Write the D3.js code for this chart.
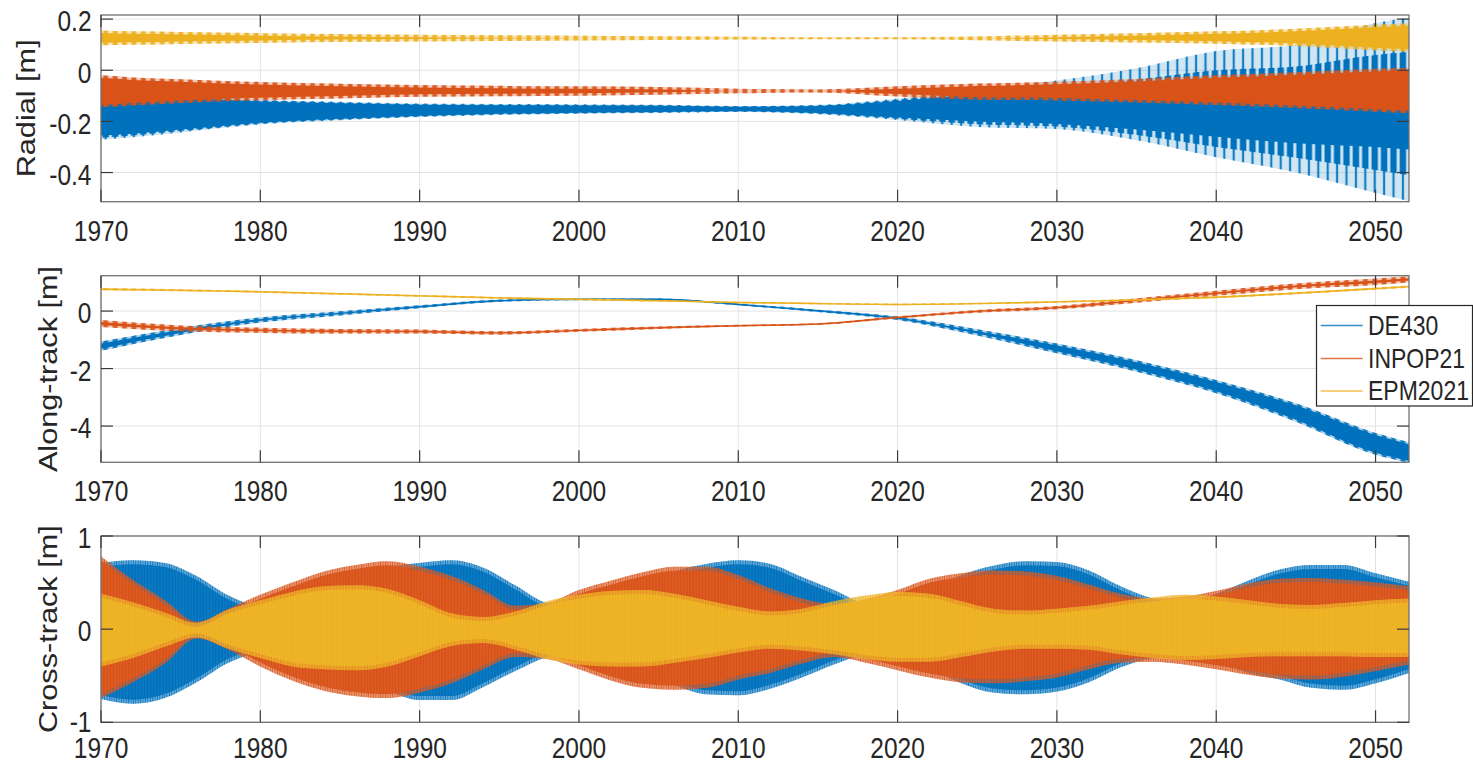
<!DOCTYPE html>
<html>
<head>
<meta charset="utf-8">
<script src="https://cdn.jsdelivr.net/npm/d3@7"></script>
<style>
  html, body { margin: 0; padding: 0; background: #fff; }
  svg { display: block; }
  text { font-family: "Liberation Sans", Arial, Helvetica, sans-serif; fill: #262626; }
</style>
</head>
<body>
<svg id="chart" width="1473" height="764"></svg>
<script>
// ---------------------------------------------------------------------------
// Ephemeris differences (Moon position) in RTN frame, envelope of the signal
// ---------------------------------------------------------------------------
const seriesNames = ["DE430", "INPOP21", "EPM2021"];
const xTickValues = [1970, 1980, 1990, 2000, 2010, 2020, 2030, 2040, 2050];

// Radial [m] — upper / lower envelope
const radialYears = [1970, 1972, 1975, 1980, 1985, 1990, 1995, 2000, 2005, 2010, 2015, 2020, 2025, 2030, 2035, 2040, 2045, 2050, 2052.1];
const radialDE430Hi = [-0.050, -0.088, -0.098, -0.115, -0.123, -0.130, -0.132, -0.133, -0.135, -0.140, -0.135, -0.110, -0.075, -0.040, 0.008, 0.075, 0.100, 0.185, 0.205];
const radialDE430Lo = [-0.272, -0.262, -0.243, -0.212, -0.196, -0.183, -0.175, -0.170, -0.167, -0.163, -0.172, -0.195, -0.222, -0.230, -0.274, -0.340, -0.400, -0.480, -0.512];
const radialDE430CoreHi = [-0.080, -0.100, -0.108, -0.122, -0.129, -0.135, -0.137, -0.138, -0.139, -0.143, -0.140, -0.120, -0.095, -0.085, -0.080, -0.075, -0.070, -0.065, -0.063];
const radialDE430CoreLo = [-0.255, -0.248, -0.232, -0.205, -0.190, -0.178, -0.170, -0.166, -0.163, -0.160, -0.167, -0.185, -0.200, -0.210, -0.232, -0.260, -0.285, -0.300, -0.310];
const radialINPOP21Hi = [-0.020, -0.028, -0.035, -0.046, -0.053, -0.058, -0.061, -0.063, -0.066, -0.072, -0.075, -0.063, -0.052, -0.045, -0.034, -0.020, -0.008, 0.006, 0.010];
const radialINPOP21Lo = [-0.145, -0.138, -0.128, -0.117, -0.110, -0.104, -0.102, -0.100, -0.096, -0.090, -0.087, -0.103, -0.115, -0.118, -0.126, -0.136, -0.148, -0.162, -0.168];
const radialEPM2021Hi = [0.155, 0.152, 0.150, 0.145, 0.142, 0.139, 0.137, 0.135, 0.133, 0.131, 0.129, 0.129, 0.132, 0.139, 0.145, 0.152, 0.162, 0.178, 0.184];
const radialEPM2021Lo = [0.098, 0.100, 0.103, 0.107, 0.110, 0.112, 0.114, 0.116, 0.118, 0.120, 0.121, 0.121, 0.117, 0.112, 0.108, 0.104, 0.095, 0.078, 0.072];

// Along-track [m] — band centre and half-width
const alongYears = [1970, 1975, 1980, 1985, 1990, 1995, 2000, 2005, 2010, 2015, 2020, 2025, 2030, 2035, 2040, 2045, 2050, 2052.1];
const alongDE430Mid = [-1.22, -0.71, -0.31, -0.08, 0.15, 0.36, 0.41, 0.41, 0.23, 0.01, -0.25, -0.74, -1.30, -1.91, -2.63, -3.53, -4.62, -4.92];
const alongDE430Half = [0.16, 0.12, 0.09, 0.07, 0.05, 0.04, 0.03, 0.03, 0.03, 0.04, 0.06, 0.11, 0.17, 0.20, 0.23, 0.32, 0.38, 0.36];
const alongINPOP21Mid = [-0.43, -0.60, -0.67, -0.70, -0.71, -0.76, -0.67, -0.58, -0.51, -0.45, -0.22, -0.01, 0.12, 0.37, 0.62, 0.86, 1.02, 1.10];
const alongINPOP21Half = [0.12, 0.10, 0.09, 0.08, 0.07, 0.06, 0.05, 0.04, 0.03, 0.03, 0.04, 0.05, 0.06, 0.08, 0.09, 0.10, 0.11, 0.11];
const alongEPM2021Mid = [0.76, 0.72, 0.67, 0.60, 0.53, 0.46, 0.41, 0.36, 0.30, 0.26, 0.23, 0.26, 0.32, 0.39, 0.48, 0.62, 0.78, 0.85];
const alongEPM2021Half = [0.04, 0.035, 0.03, 0.03, 0.03, 0.03, 0.03, 0.025, 0.025, 0.025, 0.025, 0.025, 0.03, 0.03, 0.035, 0.035, 0.04, 0.04];

// Cross-track [m] — upper / lower envelope
const crossYears = [1970, 1972, 1974, 1976, 1978, 1980, 1982, 1984, 1986, 1988, 1990, 1992, 1994, 1996, 1998, 2000, 2002, 2004, 2006, 2008, 2010, 2012, 2014, 2016, 2018, 2020, 2022, 2024, 2026, 2028, 2030, 2032, 2034, 2036, 2038, 2040, 2042, 2044, 2046, 2048, 2050, 2052.1];
const crossDE430Hi = [0.71, 0.74, 0.71, 0.57, 0.36, 0.24, 0.22, 0.35, 0.52, 0.66, 0.71, 0.74, 0.66, 0.47, 0.28, 0.24, 0.30, 0.47, 0.62, 0.70, 0.74, 0.70, 0.56, 0.42, 0.28, 0.27, 0.42, 0.58, 0.68, 0.73, 0.72, 0.63, 0.46, 0.33, 0.29, 0.38, 0.52, 0.64, 0.69, 0.69, 0.60, 0.51];
const crossDE430Lo = [-0.75, -0.80, -0.74, -0.57, -0.36, -0.25, -0.22, -0.35, -0.52, -0.66, -0.76, -0.76, -0.62, -0.45, -0.30, -0.25, -0.30, -0.46, -0.60, -0.70, -0.71, -0.64, -0.52, -0.38, -0.28, -0.28, -0.42, -0.58, -0.68, -0.70, -0.67, -0.57, -0.41, -0.31, -0.28, -0.35, -0.47, -0.54, -0.63, -0.65, -0.58, -0.47];
const crossINPOP21Hi = [0.78, 0.53, 0.31, 0.08, 0.22, 0.37, 0.50, 0.62, 0.69, 0.73, 0.67, 0.57, 0.42, 0.25, 0.28, 0.42, 0.52, 0.61, 0.67, 0.67, 0.58, 0.44, 0.33, 0.27, 0.32, 0.42, 0.54, 0.60, 0.63, 0.62, 0.57, 0.48, 0.38, 0.33, 0.35, 0.41, 0.49, 0.54, 0.55, 0.53, 0.50, 0.46];
const crossINPOP21Lo = [-0.74, -0.57, -0.37, -0.10, -0.22, -0.40, -0.55, -0.66, -0.72, -0.74, -0.68, -0.58, -0.43, -0.30, -0.32, -0.43, -0.55, -0.63, -0.65, -0.63, -0.54, -0.47, -0.37, -0.30, -0.36, -0.44, -0.52, -0.57, -0.58, -0.56, -0.52, -0.43, -0.36, -0.35, -0.38, -0.43, -0.49, -0.53, -0.54, -0.51, -0.45, -0.38];
const crossEPM2021Hi = [0.38, 0.29, 0.18, 0.07, 0.21, 0.31, 0.40, 0.46, 0.47, 0.43, 0.31, 0.17, 0.13, 0.19, 0.30, 0.37, 0.41, 0.42, 0.38, 0.31, 0.24, 0.19, 0.22, 0.30, 0.36, 0.40, 0.38, 0.30, 0.22, 0.20, 0.22, 0.25, 0.30, 0.34, 0.37, 0.35, 0.31, 0.27, 0.26, 0.28, 0.31, 0.33];
const crossEPM2021Lo = [-0.40, -0.31, -0.19, -0.09, -0.21, -0.31, -0.40, -0.43, -0.44, -0.40, -0.29, -0.18, -0.15, -0.22, -0.32, -0.38, -0.40, -0.40, -0.36, -0.31, -0.25, -0.21, -0.23, -0.27, -0.32, -0.35, -0.35, -0.30, -0.24, -0.21, -0.21, -0.22, -0.27, -0.31, -0.33, -0.32, -0.30, -0.29, -0.29, -0.29, -0.30, -0.30];

// ---------------------------------------------------------------------------
const COLORS = { DE430: "#0072BD", INPOP21: "#D95319", EPM2021: "#EDB120" };
const LEFT = 101, RIGHT = 1409;
const SY = 1.18;            // vertical stretch applied to all text
const TICK_FONT = 24.5, LABEL_FONT = 26, LEGEND_FONT = 23;

const svg = d3.select("#chart");
const defs = svg.append("defs");

const x = d3.scaleLinear().domain([1970, 2052.1]).range([LEFT, RIGHT]);

// stripe textures standing in for the fast oscillation of each trace
function stripePattern(id, color, period, width) {
  const p = defs.append("pattern")
    .attr("id", id)
    .attr("patternUnits", "userSpaceOnUse")
    .attr("x", LEFT).attr("y", 0)
    .attr("width", period).attr("height", 20);
  p.append("rect").attr("x", (period - width) / 2).attr("y", 0)
    .attr("width", width).attr("height", 20).attr("fill", color);
}
seriesNames.forEach(name => {
  stripePattern("comb-" + name, COLORS[name], 9.4, 4.8);
  stripePattern("thin-" + name, COLORS[name], 9.4, 2.2);
  stripePattern("wide-" + name, COLORS[name], 9.4, 6.4);
  stripePattern("fine-" + name, COLORS[name], 2.4, 1.3);
});
stripePattern("sheen", "#ffffff", 3.1, 0.9);

const panels = [
  {
    id: "radial", top: 15, bottom: 201.7, domain: [-0.514, 0.216],
    yTicks: [-0.4, -0.2, 0, 0.2], label: "Radial [m]", labelX: 35, fringe: "comb", inset: 2.5,
    bands: [
      { name: "DE430", rows: zipHiLo(radialYears, radialDE430Lo, radialDE430Hi),
        core: zipHiLo(radialYears, radialDE430CoreLo, radialDE430CoreHi) },
      { name: "INPOP21", rows: zipHiLo(radialYears, radialINPOP21Lo, radialINPOP21Hi) },
      { name: "EPM2021", rows: zipHiLo(radialYears, radialEPM2021Lo, radialEPM2021Hi) }
    ]
  },
  {
    id: "along", top: 275.7, bottom: 462.3, domain: [-5.26, 1.23],
    yTicks: [-4, -2, 0], label: "Along-track [m]", labelX: 57.3, fringe: "comb", inset: 2,
    centre: true,
    bands: [
      { name: "DE430", rows: zipMid(alongYears, alongDE430Mid, alongDE430Half) },
      { name: "INPOP21", rows: zipMid(alongYears, alongINPOP21Mid, alongINPOP21Half) },
      { name: "EPM2021", rows: zipMid(alongYears, alongEPM2021Mid, alongEPM2021Half) }
    ]
  },
  {
    id: "cross", top: 536, bottom: 722.3, domain: [-1, 1],
    yTicks: [-1, 0, 1], label: "Cross-track [m]", labelX: 57.3, fringe: "fine", inset: 4,
    bands: [
      { name: "DE430", rows: zipHiLo(crossYears, crossDE430Lo, crossDE430Hi) },
      { name: "INPOP21", rows: zipHiLo(crossYears, crossINPOP21Lo, crossINPOP21Hi) },
      { name: "EPM2021", rows: zipHiLo(crossYears, crossEPM2021Lo, crossEPM2021Hi) }
    ]
  }
];

function zipHiLo(years, lo, hi) {
  return years.map((t, i) => ({ t, lo: lo[i], hi: hi[i] }));
}
function zipMid(years, mid, half) {
  return years.map((t, i) => ({ t, lo: mid[i] - half[i], hi: mid[i] + half[i], mid: mid[i] }));
}

function addText(g, str, tx, ty, anchor, size, rotate) {
  return g.append("text")
    .attr("transform", `translate(${tx},${ty}) scale(1,${SY})` + (rotate ? " rotate(-90)" : ""))
    .attr("text-anchor", anchor)
    .attr("font-size", size)
    .text(str);
}

panels.forEach(p => {
  const y = d3.scaleLinear().domain(p.domain).range([p.bottom, p.top]);
  const g = svg.append("g").attr("class", "panel-" + p.id);

  defs.append("clipPath").attr("id", "clip-" + p.id)
    .append("rect").attr("x", LEFT).attr("y", p.top)
    .attr("width", RIGHT - LEFT).attr("height", p.bottom - p.top);

  // grid
  const grid = g.append("g").attr("stroke", "#e3e3e3").attr("stroke-width", 1);
  xTickValues.forEach(v => {
    grid.append("line").attr("x1", x(v)).attr("x2", x(v)).attr("y1", p.top).attr("y2", p.bottom);
  });
  p.yTicks.forEach(v => {
    grid.append("line").attr("x1", LEFT).attr("x2", RIGHT).attr("y1", y(v)).attr("y2", y(v));
  });

  // data bands
  const plot = g.append("g").attr("clip-path", `url(#clip-${p.id})`);
  const outerArea = d3.area().x(d => x(d.t)).y0(d => y(d.lo)).y1(d => y(d.hi)).curve(d3.curveMonotoneX);
  const insetArea = k => d3.area().x(d => x(d.t))
    .y0(d => { const a = y(d.lo), b = y(d.hi); return a - b > 2 * k ? a - k : (a + b) / 2; })
    .y1(d => { const a = y(d.lo), b = y(d.hi); return a - b > 2 * k ? b + k : (a + b) / 2; })
    .curve(d3.curveMonotoneX);
  // band halfway between an outer envelope and a core envelope (pixel space)
  const midArea = (outer, core) => d3.area()
    .x(d => x(d.t))
    .y0((d, i) => (y(d.lo) + y(core[i].lo)) / 2)
    .y1((d, i) => (y(d.hi) + y(core[i].hi)) / 2)
    .curve(d3.curveMonotoneX)(outer);

  p.bands.forEach(b => {
    const c = COLORS[b.name];
    if (b.core) {
      // spiky envelope: thin tips, wider bases, solid core
      plot.append("path").attr("d", outerArea(b.rows)).attr("fill", c).attr("fill-opacity", 0.18);
      plot.append("path").attr("d", outerArea(b.rows)).attr("fill", `url(#thin-${b.name})`).attr("opacity", 0.9);
      plot.append("path").attr("d", midArea(b.rows, b.core)).attr("fill", `url(#wide-${b.name})`);
      plot.append("path").attr("d", outerArea(b.core)).attr("fill", c);
    } else if (p.fringe === "comb") {
      plot.append("path").attr("d", outerArea(b.rows)).attr("fill", c).attr("fill-opacity", 0.3);
      plot.append("path").attr("d", outerArea(b.rows)).attr("fill", `url(#comb-${b.name})`).attr("opacity", 0.9);
      plot.append("path").attr("d", insetArea(p.inset)(b.rows)).attr("fill", c);
    } else {
      plot.append("path").attr("d", outerArea(b.rows)).attr("fill", c).attr("fill-opacity", 0.5);
      plot.append("path").attr("d", outerArea(b.rows)).attr("fill", `url(#fine-${b.name})`).attr("opacity", 0.9);
      plot.append("path").attr("d", insetArea(p.inset)(b.rows)).attr("fill", c);
      plot.append("path").attr("d", outerArea(b.rows)).attr("fill", "url(#sheen)").attr("opacity", 0.09);
    }
    if (p.centre) {
      plot.append("path")
        .attr("d", d3.line().x(d => x(d.t)).y(d => y(d.mid)).curve(d3.curveMonotoneX)(b.rows))
        .attr("fill", "none").attr("stroke", c).attr("stroke-width", 1.4);
    }
  });

  // axes box and ticks
  const ax = g.append("g").attr("fill", "none");
  ax.append("rect").attr("x", LEFT).attr("y", p.top)
    .attr("width", RIGHT - LEFT).attr("height", p.bottom - p.top)
    .attr("stroke", "#707070").attr("stroke-width", 1.3);
  const tk = ax.append("g").attr("stroke", "#3a3a3a").attr("stroke-width", 1.2);
  const TL = 12;
  xTickValues.forEach(v => {
    tk.append("line").attr("x1", x(v)).attr("x2", x(v)).attr("y1", p.bottom).attr("y2", p.bottom - TL);
    tk.append("line").attr("x1", x(v)).attr("x2", x(v)).attr("y1", p.top).attr("y2", p.top + TL);
  });
  p.yTicks.forEach(v => {
    tk.append("line").attr("x1", LEFT).attr("x2", LEFT + TL).attr("y1", y(v)).attr("y2", y(v));
    tk.append("line").attr("x1", RIGHT).attr("x2", RIGHT - TL).attr("y1", y(v)).attr("y2", y(v));
  });

  // tick labels
  const xLabelBase = Math.min(p.bottom + 39, 757.5);
  xTickValues.forEach(v => addText(g, String(v), x(v), xLabelBase, "middle", TICK_FONT));
  p.yTicks.forEach(v => addText(g, String(v), 91.5, y(v) + (v === p.domain[0] ? 10 : 12.3), "end", TICK_FONT));

  // axis label
  addText(g, p.label, p.labelX, (p.top + p.bottom) / 2, "middle", LABEL_FONT, true);
});

// legend (placed over the along-track panel)
const legend = svg.append("g").attr("class", "legend");
legend.append("rect").attr("x", 1316.5).attr("y", 305.5).attr("width", 156).attr("height", 100.5)
  .attr("fill", "#fff").attr("stroke", "#262626").attr("stroke-width", 1.2);
const legendY = [325.5, 358.5, 391];
seriesNames.forEach((name, i) => {
  legend.append("line").attr("x1", 1320.7).attr("x2", 1362.7)
    .attr("y1", legendY[i]).attr("y2", legendY[i])
    .attr("stroke", COLORS[name]).attr("stroke-width", 1.6).attr("stroke-opacity", 0.8);
  addText(legend, name, 1368, legendY[i] + 9, "start", LEGEND_FONT);
});
</script>
</body>
</html>
